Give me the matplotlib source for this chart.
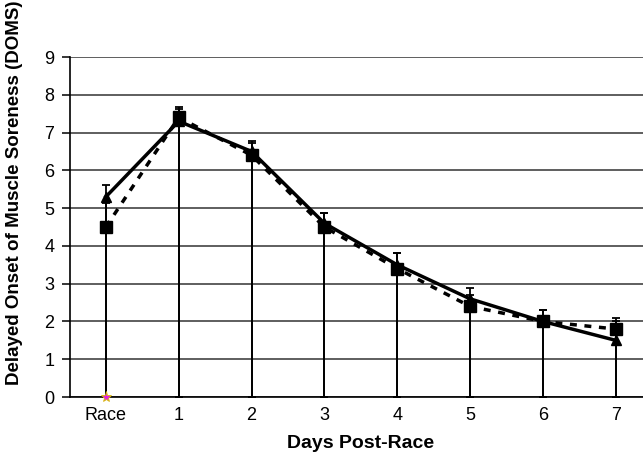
import matplotlib.pyplot as plt
import numpy as np

plt.rcParams['font.family'] = ['Liberation Sans', 'DejaVu Sans']

days = ["Race", "1", "2", "3", "4", "5", "6", "7"]
tri_vals = [5.3, 7.3, 6.5, 4.6, 3.5, 2.6, 2.0, 1.5]
tri_err = [0.3, 0.37, 0.27, 0.28, 0.3, 0.29, 0.3, 0.5]
sq_vals = [4.5, 7.4, 6.4, 4.5, 3.4, 2.4, 2.0, 1.8]
sq_err = [0.63, 0.22, 0.32, 0.38, 0.4, 0.3, 0.3, 0.3]
star_vals = [0]

x = np.arange(len(days))
W, H = 643, 461
fig = plt.figure(figsize=(W / 100, H / 100), dpi=100)
ax = fig.add_axes([69.5 / W, 1 - 397 / H, (652 - 69.5) / W, (397 - 57) / H])

for vals, err in [(tri_vals, tri_err), (sq_vals, sq_err)]:
    vals = np.array(vals)
    ax.errorbar(x, vals, yerr=[vals, np.array(err)], fmt='none', ecolor='black',
                elinewidth=1.3, capsize=3, capthick=1.3, zorder=3)

ax.plot(x, tri_vals, color='black', lw=2.5, marker='^', ms=7, zorder=4)
ax.plot(x, sq_vals, color='black', lw=2.5, ls=(0, (2.0, 2.2)), marker='s', ms=8, zorder=4)
ax.plot(x[:1], star_vals, ls='none', marker='*', color='#e020e0', ms=8,
        markeredgecolor='#d8c000', markeredgewidth=0.6, clip_on=False, zorder=5)

ax.set_xlim(-0.5, 7.5)
ax.set_ylim(0, 9)
ax.set_yticks(range(10))
ax.set_xticks(x)
ax.set_xticklabels(days)
ax.yaxis.grid(True, color='#333333', lw=1.1)
ax.set_axisbelow(True)
for s in ['top', 'right']:
    ax.spines[s].set_visible(False)
ax.spines['left'].set_linewidth(1.2)
ax.spines['bottom'].set_linewidth(1.2)
ax.tick_params(axis='x', length=0, labelsize=13, pad=7)
ax.tick_params(axis='y', length=6, width=1.1, labelsize=13, pad=5)

ax.set_xlabel("Days Post-Race", fontsize=14, fontweight='bold', labelpad=8)
fig.text(15 / W, 1 - 193 / H, "Delayed Onset of Muscle Soreness (DOMS)", rotation=90,
         fontsize=13.5, fontweight='bold', ha='center', va='center')

fig.savefig("out.png", dpi=100)
